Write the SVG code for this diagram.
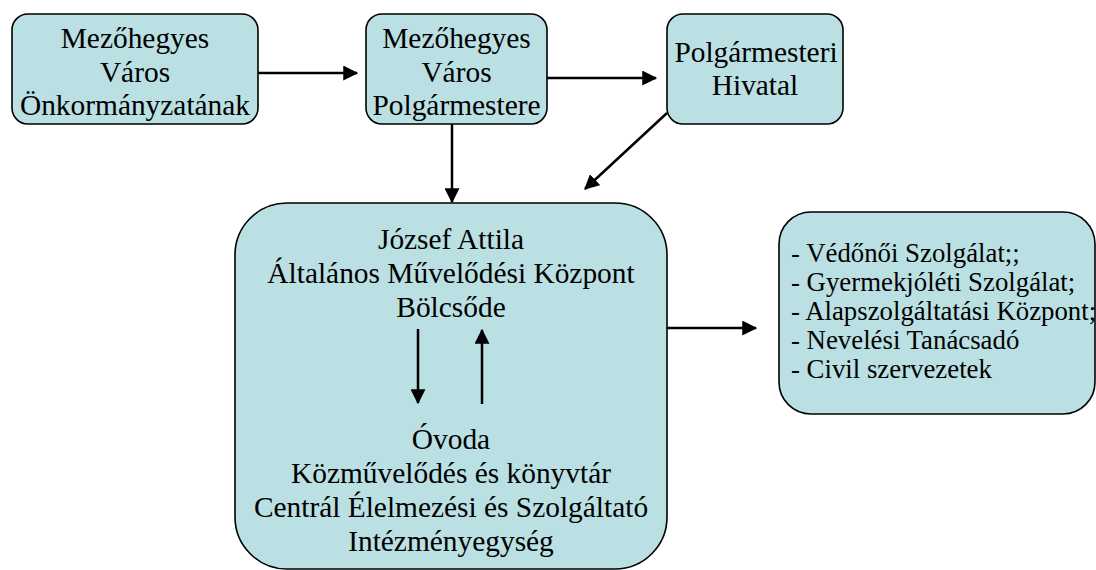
<svg xmlns="http://www.w3.org/2000/svg" width="1096" height="570" viewBox="0 0 1096 570">
<defs>
<style>
.box{fill:#BAE0E3;stroke:#000;stroke-width:1.6}
.t{font-family:"Liberation Serif","Times New Roman",serif;font-size:29.4px;fill:#000;text-anchor:middle}
.tl{font-family:"Liberation Serif","Times New Roman",serif;font-size:26.8px;fill:#000}
.c{stroke:#000;stroke-width:2.5;fill:none;marker-end:url(#ah)}
</style>
<marker id="ah" markerWidth="6" markerHeight="6" refX="5.5" refY="3" orient="auto" markerUnits="strokeWidth">
<path d="M0,0 L6,3 L0,6 Z" fill="#000"/>
</marker>
</defs>
<rect width="1096" height="570" fill="#fff"/>
<g id="n1">
<rect class="box" x="12" y="14" width="246" height="110" rx="16"/>
<text class="t" x="135" y="48">Mezőhegyes</text>
<text class="t" x="135" y="82">Város</text>
<text class="t" x="135" y="115">Önkormányzatának</text>
</g>
<g id="n2">
<rect class="box" x="366" y="14" width="181" height="110" rx="16"/>
<text class="t" x="456.5" y="48">Mezőhegyes</text>
<text class="t" x="456.5" y="82">Város</text>
<text class="t" x="456.5" y="115">Polgármestere</text>
</g>
<g id="n3">
<rect class="box" x="667" y="14" width="176" height="110" rx="16"/>
<text class="t" x="756" y="62">Polgármesteri</text>
<text class="t" x="755" y="95">Hivatal</text>
</g>
<g id="n4">
<rect class="box" x="235" y="203" width="432" height="366" rx="52"/>
<text class="t" x="451" y="249">József Attila</text>
<text class="t" x="451" y="283">Általános Művelődési Központ</text>
<text class="t" x="451" y="317">Bölcsőde</text>
<text class="t" x="451" y="449">Óvoda</text>
<text class="t" x="451" y="483">Közművelődés és könyvtár</text>
<text class="t" x="451" y="517">Centrál Élelmezési és Szolgáltató</text>
<text class="t" x="451" y="551">Intézményegység</text>
</g>
<g id="n5">
<rect class="box" x="779" y="212" width="316" height="202" rx="32"/>
<text class="tl" x="791" y="262">- Védőnői Szolgálat;;</text>
<text class="tl" x="791" y="291">- Gyermekjóléti Szolgálat;</text>
<text class="tl" x="791" y="320">- Alapszolgáltatási Központ;</text>
<text class="tl" x="791" y="349">- Nevelési Tanácsadó</text>
<text class="tl" x="791" y="378">- Civil szervezetek</text>
</g>
<g id="connectors">
<path class="c" d="M258,73 L357,73"/>
<path class="c" d="M547,78 L656,78"/>
<path class="c" d="M452,124 L452,202"/>
<path class="c" d="M667,113 L585,189"/>
<path class="c" d="M418,329 L418,403"/>
<path class="c" d="M482,404 L482,330"/>
<path class="c" d="M667,328 L756,328"/>
</g>
</svg>
